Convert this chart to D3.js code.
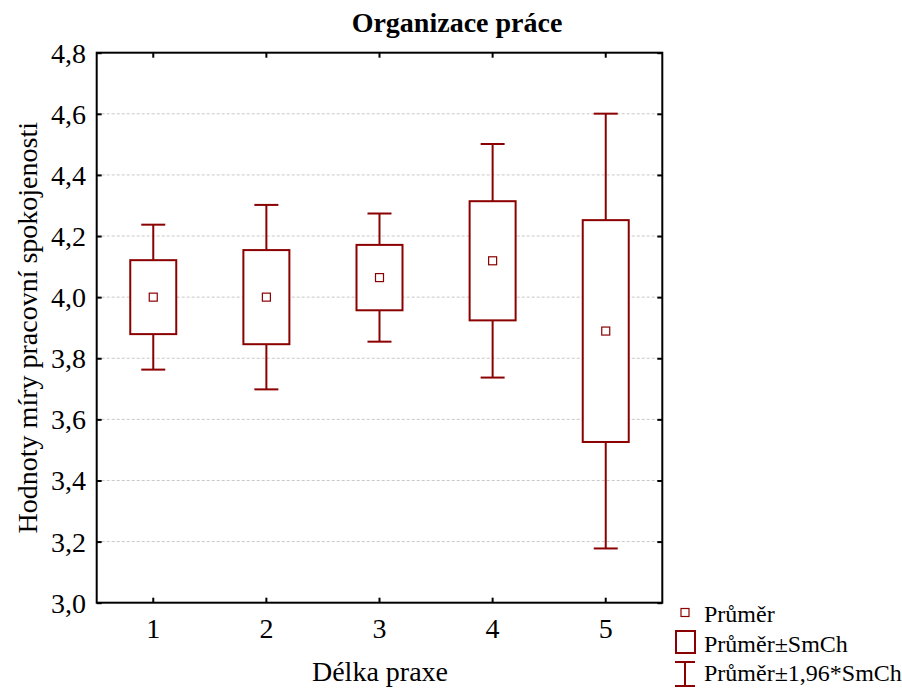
<!DOCTYPE html>
<html>
<head>
<meta charset="utf-8">
<script src="https://cdn.jsdelivr.net/npm/d3@7"></script>
<style>
  html, body { margin: 0; padding: 0; background: #fff; }
  svg { display: block; font-family: "Liberation Serif", "Times New Roman", serif; }
</style>
</head>
<body>
<svg id="chart" width="902" height="690"></svg>
<script>
// Skupiny podle délky praxe
const categories = ["1", "2", "3", "4", "5"];
// Průměr a směrodatná chyba průměru (SmCh) v každé skupině
const means = [4.000, 4.000, 4.064, 4.119, 3.889];
const stdErrors = [0.121, 0.154, 0.107, 0.195, 0.363];
// Popisky osy y
const yTicks = [3.0, 3.2, 3.4, 3.6, 3.8, 4.0, 4.2, 4.4, 4.6, 4.8];

const title = "Organizace práce";
const xTitle = "Délka praxe";
const yTitle = "Hodnoty míry pracovní spokojenosti";
const legendLabels = ["Průměr", "Průměr±SmCh", "Průměr±1,96*SmCh"];

const color = "#8b0000";
const svg = d3.select("#chart");
const m = { left: 96.7, right: 662.3, top: 52.7, bottom: 602.7 };

const x = d3.scaleBand().domain(categories).range([m.left, m.right]);
const y = d3.scaleLinear().domain([3.0, 4.8]).range([m.bottom, m.top]);
const cx = c => x(c) + x.bandwidth() / 2;
const fmt = v => d3.format(".1f")(v).replace(".", ",");

const data = categories.map((c, i) => ({
  c, mean: means[i], se: stdErrors[i]
}));

// mřížka
svg.append("g").selectAll("line")
  .data(yTicks.slice(1, -1))
  .join("line")
  .attr("x1", m.left).attr("x2", m.right)
  .attr("y1", d => y(d)).attr("y2", d => y(d))
  .attr("stroke", "#c8c8c8").attr("stroke-width", 1)
  .attr("stroke-dasharray", "3,2");

// osy s dovnitř směřujícími značkami
const axisStyle = g => {
  g.select(".domain").remove();
  g.selectAll("line").attr("stroke", "#000").attr("stroke-width", 2);
};
svg.append("g").attr("transform", `translate(${m.left},0)`)
  .call(d3.axisRight(y).tickValues(yTicks).tickSize(5).tickFormat(""))
  .call(axisStyle);
svg.append("g").attr("transform", `translate(${m.right},0)`)
  .call(d3.axisLeft(y).tickValues(yTicks).tickSize(5).tickFormat(""))
  .call(axisStyle);
svg.append("g").attr("transform", `translate(0,${m.bottom})`)
  .call(d3.axisTop(x).tickSize(5).tickFormat(""))
  .call(axisStyle);
svg.append("g").attr("transform", `translate(0,${m.top})`)
  .call(d3.axisBottom(x).tickSize(5).tickFormat(""))
  .call(axisStyle);

// rámeček grafu
svg.append("rect")
  .attr("x", m.left).attr("y", m.top)
  .attr("width", m.right - m.left).attr("height", m.bottom - m.top)
  .attr("fill", "none").attr("stroke", "#000").attr("stroke-width", 2);

// popisky os
svg.append("g").selectAll("text")
  .data(yTicks).join("text")
  .attr("x", 86).attr("y", d => y(d) + 10)
  .attr("text-anchor", "end").attr("font-size", 28)
  .text(fmt);
svg.append("g").selectAll("text")
  .data(categories).join("text")
  .attr("x", d => cx(d)).attr("y", 638)
  .attr("text-anchor", "middle").attr("font-size", 28)
  .text(d => d);

// whiskery ±1,96*SmCh
const g = svg.append("g").attr("stroke", color).attr("fill", "none");
const capHalf = 12, boxHalf = 23;
const items = g.selectAll("g.item").data(data).join("g").attr("class", "item");
items.append("line")
  .attr("x1", d => cx(d.c)).attr("x2", d => cx(d.c))
  .attr("y1", d => y(d.mean + 1.96 * d.se)).attr("y2", d => y(d.mean - 1.96 * d.se))
  .attr("stroke-width", 2);
items.append("line")
  .attr("x1", d => cx(d.c) - capHalf).attr("x2", d => cx(d.c) + capHalf)
  .attr("y1", d => y(d.mean + 1.96 * d.se)).attr("y2", d => y(d.mean + 1.96 * d.se))
  .attr("stroke-width", 2);
items.append("line")
  .attr("x1", d => cx(d.c) - capHalf).attr("x2", d => cx(d.c) + capHalf)
  .attr("y1", d => y(d.mean - 1.96 * d.se)).attr("y2", d => y(d.mean - 1.96 * d.se))
  .attr("stroke-width", 2);
// box ±SmCh
items.append("rect")
  .attr("x", d => cx(d.c) - boxHalf).attr("width", boxHalf * 2)
  .attr("y", d => y(d.mean + d.se))
  .attr("height", d => y(d.mean - d.se) - y(d.mean + d.se))
  .attr("fill", "#fff").attr("stroke-width", 2);
// průměr
items.append("rect")
  .attr("x", d => cx(d.c) - 4).attr("y", d => y(d.mean) - 4)
  .attr("width", 8).attr("height", 8)
  .attr("fill", "#fff").attr("stroke-width", 1.2);

// nadpisy
svg.append("text").attr("x", 457).attr("y", 32)
  .attr("text-anchor", "middle").attr("font-size", 28).attr("font-weight", "bold")
  .text(title);
svg.append("text").attr("x", 380).attr("y", 681)
  .attr("text-anchor", "middle").attr("font-size", 28)
  .text(xTitle);
svg.append("text")
  .attr("transform", `translate(37,${(m.top + m.bottom) / 2}) rotate(-90)`)
  .attr("text-anchor", "middle").attr("font-size", 28)
  .text(yTitle);

// legenda
const lg = svg.append("g").attr("stroke", color).attr("fill", "none");
lg.append("rect").attr("x", 681).attr("y", 608.5).attr("width", 8).attr("height", 8)
  .attr("stroke-width", 1.2);
lg.append("rect").attr("x", 676).attr("y", 631).attr("width", 19).attr("height", 22)
  .attr("stroke-width", 2);
lg.append("line").attr("x1", 685).attr("x2", 685).attr("y1", 662).attr("y2", 686)
  .attr("stroke-width", 2);
lg.append("line").attr("x1", 675).attr("x2", 695).attr("y1", 662).attr("y2", 662)
  .attr("stroke-width", 2);
lg.append("line").attr("x1", 675).attr("x2", 695).attr("y1", 686).attr("y2", 686)
  .attr("stroke-width", 2);
svg.append("g").selectAll("text")
  .data(legendLabels).join("text")
  .attr("x", 704).attr("y", (d, i) => [622, 652, 681][i])
  .attr("font-size", 24)
  .text(d => d);
</script>
</body>
</html>
